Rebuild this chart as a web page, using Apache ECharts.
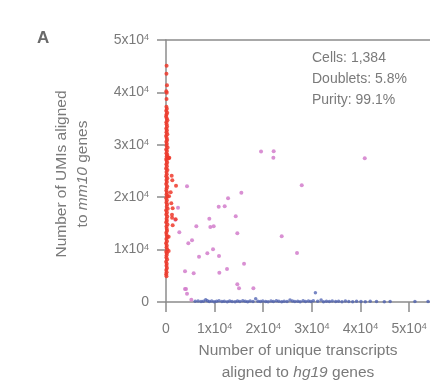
<!DOCTYPE html>
<html>
<head>
<meta charset="utf-8">
<script src="https://cdn.jsdelivr.net/npm/echarts@6/dist/echarts.min.js"></script>
<style>
  html, body { margin: 0; padding: 0; background: #fff; }
  #chart { width: 430px; height: 386px; }
</style>
</head>
<body>
<div id="chart"></div>
<script>
// Mouse cells: [hg19 transcripts, mm10 UMIs]
const mouseCells = [
  [120,45100],[90,43570],[200,41350],[150,39950],[60,40200],[110,38740],[80,37270],[180,36900],
  [40,36500],[250,36100],[100,35800],[20,35400],[160,35000],[300,34700],[70,34300],[130,33900],
  [220,33500],[50,33100],[190,32800],[90,32400],[280,32000],[10,31700],[140,31300],[240,30900],
  [60,30600],[170,30200],[110,29800],[330,29500],[30,29100],[200,28800],[80,28400],[260,28100],
  [150,27800],[680,27540],[450,27600],[560,27450],[350,27500],[40,27300],[120,27000],[230,26600],
  [70,26300],[190,25900],[20,25500],[300,25200],[100,24800],[1170,24100],[160,24400],[50,24000],
  [270,23600],[1300,23220],[90,23300],[2060,22200],[180,22900],[30,22500],[240,22100],[130,21700],
  [60,21300],[960,20930],[200,20900],[620,20170],[100,20500],[290,20200],[40,19800],[170,19400],
  [1090,18830],[80,19000],[230,18600],[1370,17880],[140,18200],[350,17800],[20,17500],[190,17100],
  [1230,16660],[1250,16100],[60,16700],[260,16300],[110,15900],[1990,15780],[180,15500],[30,15200],
  [1370,14630],[310,14800],[90,14400],[150,14000],[220,13600],[50,13200],[550,12460],[130,12800],
  [280,12400],[70,12000],[200,11600],[10,11200],[160,10800],[100,10400],[260,10000],[550,9730],
  [40,9600],[190,9300],[120,8900],[70,8500],[230,8100],[20,7700],[150,7300],[90,6900],
  [200,6500],[50,6100],[130,5700],[30,5300],[100,4900]
];

// Mixed-species doublets
const doublets = [
  [19550,28700],[22150,28750],[22080,27540],[40880,27420],[27920,22270],[4320,22080],[15500,20860],
  [12760,19790],[10840,18190],[12070,18260],[2470,18000],[14340,16350],[8910,15900],[1910,15710],
  [6240,14440],[9120,14310],[9810,14440],[2740,13300],[14670,13110],[23800,12540],[5350,11770],
  [4590,11200],[9670,10050],[8500,9290],[26950,9350],[6790,8650],[10900,8780],[16050,7310],
  [3910,5860],[5690,5480],[10970,5600],[12550,6300],[14670,3370],[15020,2610],[17970,2610],
  [3910,2480],[4120,2480],[4320,1590],[5210,440]
];

// Human cells
const humanCells = [
  [6000,120],[6600,200],[7200,80],[7700,150],[8160,440],[8500,250],[8900,100],[9400,180],
  [9900,60],[10400,140],[10900,220],[11500,90],[12000,160],[12600,70],[13100,200],[13600,110],
  [14200,50],[14700,170],[15200,90],[15800,230],[16300,120],[16800,60],[17300,190],[17900,100],
  [18450,630],[18900,140],[19400,80],[19900,210],[20500,110],[21000,50],[21600,170],[22100,90],
  [22700,240],[23200,130],[23800,70],[24300,160],[24900,100],[25500,380],[26000,190],[26500,80],
  [27100,150],[27600,60],[28200,220],[28700,110],[29300,170],[29800,90],[30300,250],[30730,1780],
  [31200,130],[31900,380],[32400,70],[33000,160],[33600,100],[34200,200],[34900,80],[35500,140],
  [36200,60],[36900,180],[37600,110],[38400,70],[39200,150],[40100,90],[41000,60],[42000,120],
  [43300,80],[44900,70],[46100,100],[51200,110],[53900,90]
];

const xTickLabels = ['0', '1x10{s|4}', '2x10{s|4}', '3x10{s|4}', '4x10{s|4}', '5x10{s|4}'];
const yTickLabels = ['0', '1x10{s|4}', '2x10{s|4}', '3x10{s|4}', '4x10{s|4}', '5x10{s|4}'];
const statsLines = ['Cells: 1,384', 'Doublets: 5.8%', 'Purity: 99.1%'];

const FONT = '"Liberation Sans", "DejaVu Sans", sans-serif';
const AXIS_GRAY = '#8c8c8c';
const TEXT_GRAY = '#7a7a7a';

const labelRich = {
  s: { fontSize: 9, fontFamily: FONT, color: TEXT_GRAY, verticalAlign: 'top', lineHeight: 10 }
};

const chart = echarts.init(document.getElementById('chart'), null, { renderer: 'canvas' });

chart.setOption({
  animation: false,
  backgroundColor: '#fff',
  grid: { left: 166, right: 0, top: 40, bottom: 84, containLabel: false },
  xAxis: [{
    type: 'value', min: 0, max: 54300, interval: 10000,
    axisLine: { show: true, lineStyle: { color: AXIS_GRAY, width: 1.5 } },
    axisTick: { show: true, length: 10, lineStyle: { color: AXIS_GRAY, width: 1.5 } },
    splitLine: { show: false },
    axisLabel: {
      margin: 20, fontSize: 14, fontFamily: FONT, color: TEXT_GRAY,
      formatter: (v) => xTickLabels[Math.round(v / 10000)] || '',
      rich: labelRich
    }
  }, {
    type: 'value', position: 'top', min: 0, max: 54300,
    axisLine: { show: true, lineStyle: { color: AXIS_GRAY, width: 1.5 } },
    axisTick: { show: false }, axisLabel: { show: false }, splitLine: { show: false }
  }],
  yAxis: {
    type: 'value', min: 0, max: 50000, interval: 10000,
    axisLine: { show: true, lineStyle: { color: AXIS_GRAY, width: 1.5 } },
    axisTick: { show: true, length: 9, lineStyle: { color: AXIS_GRAY, width: 1.5 } },
    splitLine: { show: false },
    axisLabel: {
      margin: 17, fontSize: 14, fontFamily: FONT, color: TEXT_GRAY,
      formatter: (v) => yTickLabels[Math.round(v / 10000)] || '',
      rich: labelRich
    }
  },
  series: [
    {
      name: 'Human', type: 'scatter', data: humanCells, symbolSize: 3.5,
      itemStyle: { color: '#4a5db0', opacity: 0.75 }
    },
    {
      name: 'Doublets', type: 'scatter', data: doublets, symbolSize: 4,
      itemStyle: { color: '#d27ccb', opacity: 0.85 }
    },
    {
      name: 'Mouse', type: 'scatter', data: mouseCells, symbolSize: 4,
      itemStyle: { color: '#ef3a2c', opacity: 0.85 }
    }
  ],
  graphic: [
    {
      type: 'text', left: 37, top: 30,
      style: { text: 'A', font: 'bold 17px ' + FONT, fill: '#6a6a6a' }
    },
    {
      type: 'text', x: 312, y: 48,
      style: {
        text: statsLines.join('\n'), font: '14px ' + FONT, fill: TEXT_GRAY, lineHeight: 21
      }
    },
    {
      type: 'text', x: 298, y: 362, 
      style: {
        text: 'Number of unique transcripts\n{n|aligned to }{i|hg19}{n| genes}',
        font: '15.5px ' + FONT, fill: TEXT_GRAY, align: 'center', verticalAlign: 'middle', lineHeight: 22,
        rich: {
          n: { font: '15.5px ' + FONT, fill: TEXT_GRAY },
          i: { font: 'italic 15.5px ' + FONT, fill: TEXT_GRAY }
        }
      }
    },
    {
      type: 'text', x: 72, y: 174, rotation: Math.PI / 2,
      style: {
        text: 'Number of UMIs aligned\n{n|to }{i|mm10}{n| genes}',
        font: '15.5px ' + FONT, fill: TEXT_GRAY, align: 'center', verticalAlign: 'middle', lineHeight: 21,
        rich: {
          n: { font: '15.5px ' + FONT, fill: TEXT_GRAY },
          i: { font: 'italic 15.5px ' + FONT, fill: TEXT_GRAY }
        }
      }
    }
  ]
});
</script>
</body>
</html>
